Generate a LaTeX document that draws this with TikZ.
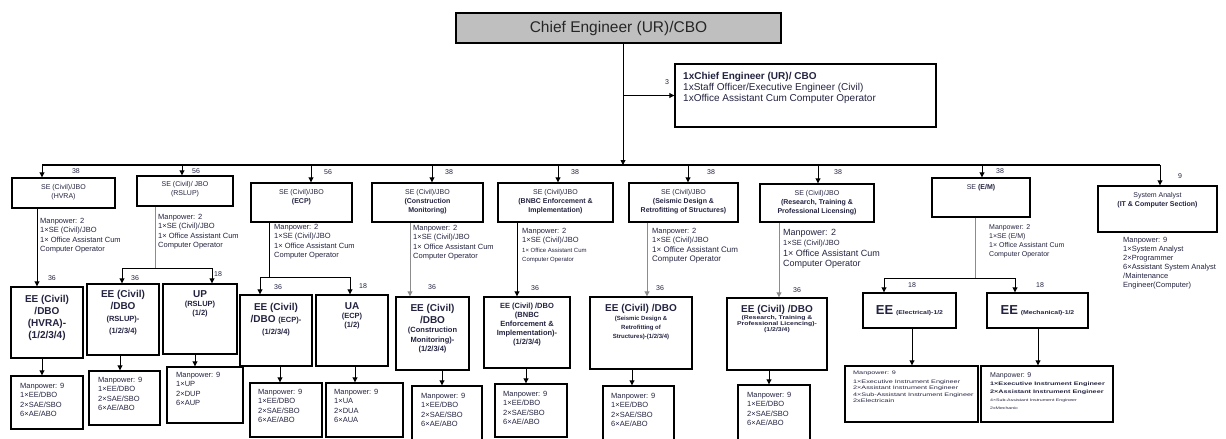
\documentclass[tikz,border=0pt]{standalone}
\usepackage{fontspec}
\setmainfont{Liberation Sans}
\newfontfamily\wsans[FakeStretch=1.25]{Liberation Sans}
\newfontfamily\xsans[FakeStretch=1.45]{Liberation Sans}
\usetikzlibrary{arrows.meta,fit,positioning}
\definecolor{ink}{RGB}{35,35,65}
\newcommand{\fsz}[2]{\fontsize{#1}{#2}\selectfont}

\begin{document}
\begin{tikzpicture}[x=1pt,y=-1pt,
    box/.style={draw, line width=1.4pt, inner sep=0pt},
    arr/.style={line width=0.9pt, -{Triangle[length=5pt,width=5pt]}},
    garr/.style={arr, draw=black!45},
    gline/.style={line width=0.9pt, draw=black!45},
    num/.style={font=\fsz{7}{8}, text=ink, inner sep=0pt},
    setxt/.style={font=\fsz{7}{9}, text=ink, align=center, inner sep=0pt},
    mptxt/.style={font=\fsz{7.5}{9.5}, text=ink, align=left, inner sep=0pt, anchor=north west},
    eetxt/.style={font=\fsz{10}{12}\bfseries, text=ink, align=center, inner sep=0pt}]

\useasboundingbox (0,0) rectangle (1226,439);

% chief engineer and his office
\node[box, fill=black!25, fit={(456,13) (781,43)}] (ce) {};
\node[font=\fsz{15.5}{18}, text=black!85] (cet) at (ce) {Chief Engineer (UR)/CBO};
\node[box, fit={(675,64) (936,127)}] (staff) {};
\node[font=\fsz{10}{11}, text=ink, align=left, inner sep=0pt, anchor=north west] (stafft) at (683,72)
  {\textbf{1xChief Engineer (UR)/ CBO}\\1xStaff Officer/Executive Engineer (Civil)\\1xOffice Assistant Cum Computer Operator};
\coordinate (trunk) at (623,165);
\draw[arr] (ce.south-|trunk) -- (trunk); % main line
\draw[arr] (trunk|-staff.west) -- (staff.west);
\node[num] (staffn) at (667,82) {3};
\coordinate (busL) at (42,165);
\coordinate (busR) at (1160,165);
\draw[line width=1.3pt] (busL) -- (busR); % bus

% HVRA
\node[box, fit={(12,178) (115,208)}] (hvra) {};
\node[setxt, below=7pt] (hvrat) at (hvra.north) {SE (Civil)/JBO\\(HVRA)};
\draw[arr] (busL) -- (busL|-hvra.north);
\node[num] (hvran) at (76,171) {38};
\node[mptxt] (hvram) at (40,218) {Manpower: 2\\1×SE (Civil)/JBO\\1× Office Assistant Cum\\Computer Operator};
\node[box, fit={(11,287) (83,358)}] (hvraee) {};
\node[eetxt, below=9pt] (hvraeet) at (hvraee.north) {EE (Civil)\\/DBO\\(HVRA)-\\(1/2/3/4)};
\draw[arr] (hvra.south-|37,0) -- (hvraee.north-|37,0);
\node[num] (hvraen) at (52,278) {36};
\node[box, fit={(11,376) (83,429)}] (hvramp) {};
\draw[arr] (hvraee.south-|42,0) -- (hvramp.north-|42,0);
\node[mptxt] (hvrampt) at (20,383) {Manpower: 9\\1×EE/DBO\\2×SAE/SBO\\6×AE/ABO};

% RSLUP
\node[box, fit={(137,176) (233,206)}] (rslup) {};
\node[setxt, below=6pt] (rslupt) at (rslup.north) {SE (Civil)/ JBO\\(RSLUP)};
\draw[arr] (182,165) -- (182,165|-rslup.north);
\node[num] (rslupn) at (196,171) {56};
\node[mptxt] (rslupm) at (158,214) {Manpower: 2\\1×SE (Civil)/JBO\\1× Office Assistant Cum\\Computer Operator};
\coordinate (rsj) at (155,268);
\draw[gline] (rslup.south-|rsj) -- (rsj);
\draw[line width=0.9pt] (122,268) -- (212,268);
\node[box, fit={(87,284) (159,355)}] (rsee) {};
\node[box, fit={(163,284) (237,354)}] (up) {};
\draw[arr] (122,268) -- (122,268|-rsee.north);
\draw[arr] (212,268) -- (212,268|-up.north);
\node[num] (rseen) at (135,278) {36};
\node[num] (upn) at (218,274) {18};
\node[eetxt, below=7pt] (rseet) at (rsee.north) {EE (Civil)\\/DBO\\{\fsz{7.5}{9}(RSLUP)-}\\{\fsz{7.5}{9}(1/2/3/4)}};
\node[eetxt, font=\fsz{7.5}{9}\bfseries, below=7pt] (upt) at (up.north) {{\fsz{10}{12}UP}\\(RSLUP)\\(1/2)};
\node[box, fit={(89,371) (160,425)}] (rsmp) {};
\node[box, fit={(167,367) (243,423)}] (upmp) {};
\draw[arr] (rsee.south-|120,0) -- (rsmp.north-|120,0);
\draw[arr] (up.south-|195,0) -- (upmp.north-|195,0);
\node[mptxt] (rsmpt) at (98,377) {Manpower: 9\\1×EE/DBO\\2×SAE/SBO\\6×AE/ABO};
\node[mptxt] (upmpt) at (176,372) {Manpower: 9\\1×UP\\2×DUP\\6×AUP};

% ECP
\node[box, fit={(251,183) (352,222)}] (ecp) {};
\node[setxt, below=7pt] (ecpt) at (ecp.north) {SE (Civil)/JBO\\\textbf{(ECP)}};
\draw[arr] (311,165) -- (311,165|-ecp.north);
\node[num] (ecpn) at (328,172) {56};
\node[mptxt] (ecpm) at (274,224) {Manpower: 2\\1×SE (Civil)/JBO\\1× Office Assistant Cum\\Computer Operator};
\coordinate (ecj) at (269,277);
\draw[line width=0.9pt] (ecp.south-|ecj) -- (ecj);
\draw[line width=0.9pt] (260,277) -- (350,277);
\node[box, fit={(240,295) (312,366)}] (ecpee) {};
\node[box, fit={(316,295) (388,366)}] (ua) {};
\draw[arr] (260,277) -- (260,277|-ecpee.north);
\draw[arr] (350,277) -- (350,277|-ua.north);
\node[num] (ecpeen) at (278,287) {36};
\node[num] (uan) at (363,286) {18};
\node[eetxt, below=9pt] (ecpeet) at (ecpee.north) {EE (Civil)\\/DBO {\fsz{7.5}{9}(ECP)-}\\{\fsz{7.5}{9}(1/2/3/4)}};
\node[eetxt, font=\fsz{7.5}{9}\bfseries, below=8pt] (uat) at (ua.north) {{\fsz{10}{12}UA}\\(ECP)\\(1/2)};
\node[box, fit={(250,383) (322,437)}] (ecpmp) {};
\node[box, fit={(326,383) (403,437)}] (uamp) {};
\draw[arr] (ecpee.south-|280,0) -- (ecpmp.north-|280,0);
\draw[arr] (ua.south-|355,0) -- (uamp.north-|355,0);
\node[mptxt] (ecpmpt) at (258,389) {Manpower: 9\\1×EE/DBO\\2×SAE/SBO\\6×AE/ABO};
\node[mptxt] (uampt) at (334,389) {Manpower: 9\\1×UA\\2×DUA\\6×AUA};

% Construction Monitoring
\node[box, fit={(372,183) (483,222)}] (cm) {};
\node[setxt, below=7pt] (cmt) at (cm.north) {SE (Civil)/JBO\\\textbf{(Construction}\\\textbf{Monitoring)}};
\draw[arr] (432,165) -- (432,165|-cm.north);
\node[num] (cmn) at (449,172) {38};
\node[mptxt] (cmm) at (413,225) {Manpower: 2\\1×SE (Civil)/JBO\\1× Office Assistant Cum\\Computer Operator};
\node[box, fit={(396,297) (469,370)}] (cmee) {};
\draw[garr] (cm.south-|410,0) -- (cmee.north-|410,0);
\node[num] (cmeen) at (432,287) {36};
\node[eetxt, font=\fsz{7.5}{9.5}\bfseries, below=8pt] (cmeet) at (cmee.north) {{\fsz{10}{12}EE (Civil)}\\[2pt]{\fsz{10}{12}/DBO}\\(Construction\\Monitoring)-\\(1/2/3/4)};
\node[box, fit={(412,386) (482,443)}] (cmmp) {};
\draw[arr] (cmee.south-|442,0) -- (cmmp.north-|442,0);
\node[mptxt] (cmmpt) at (421,393) {Manpower: 9\\1×EE/DBO\\2×SAE/SBO\\6×AE/ABO};

% BNBC
\node[box, fit={(498,183) (613,222)}] (bnbc) {};
\node[setxt, below=7pt] (bnbct) at (bnbc.north) {SE (Civil)/JBO\\\textbf{(BNBC Enforcement \&}\\\textbf{Implementation)}};
\draw[arr] (558,165) -- (558,165|-bnbc.north);
\node[num] (bnbcn) at (575,172) {38};
\node[mptxt] (bnbcm) at (522,228) {Manpower: 2\\1×SE (Civil)/JBO\\{\fsz{6}{8}1× Office Assistant Cum}\\{\fsz{6}{8}Computer Operator}};
\node[box, fit={(484,297) (570,368)}] (bnbcee) {};
\draw[arr] (bnbc.south-|517,0) -- (bnbcee.north-|517,0);
\node[num] (bnbceen) at (535,288) {36};
\node[eetxt, font=\fsz{7.5}{9}\bfseries, below=7pt] (bnbceet) at (bnbcee.north) {EE (Civil) /DBO\\(BNBC\\Enforcement \&\\Implementation)-\\(1/2/3/4)};
\node[box, fit={(495,384) (567,437)}] (bnbcmp) {};
\draw[arr] (bnbcee.south-|526,0) -- (bnbcmp.north-|526,0);
\node[mptxt] (bnbcmpt) at (503,391) {Manpower: 9\\1×EE/DBO\\2×SAE/SBO\\6×AE/ABO};

% Seismic
\node[box, fit={(629,183) (738,222)}] (sds) {};
\node[setxt, below=7pt] (sdst) at (sds.north) {SE (Civil)/JBO\\\textbf{(Seismic Design \&}\\\textbf{Retrofitting of Structures)}};
\draw[arr] (688,165) -- (688,165|-sds.north);
\node[num] (sdsn) at (711,172) {38};
\node[mptxt] (sdsm) at (652,228) {Manpower: 2\\1×SE (Civil)/JBO\\{\fsz{8}{9.5}1× Office Assistant Cum}\\{\fsz{8}{9.5}Computer Operator}};
\node[box, fit={(590,297) (692,369)}] (sdsee) {};
\draw[garr] (sds.south-|647,0) -- (sdsee.north-|647,0);
\node[num] (sdseen) at (660,288) {36};
\node[eetxt, font=\fsz{6}{9}\bfseries, below=8pt] (sdseet) at (sdsee.north) {{\fsz{10}{12}EE (Civil) /DBO}\\(Seismic Design \&\\Retrofitting of\\Structures)-(1/2/3/4)};
\node[box, fit={(603,386) (674,443)}] (sdsmp) {};
\draw[arr] (sdsee.south-|632,0) -- (sdsmp.north-|632,0);
\node[mptxt] (sdsmpt) at (611,393) {Manpower: 9\\1×EE/DBO\\2×SAE/SBO\\6×AE/ABO};

% Research, Training
\node[box, fit={(760,184) (874,222)}] (rtpl) {};
\node[setxt, below=7pt] (rtplt) at (rtpl.north) {SE (Civil)/JBO\\\textbf{(Research, Training \&}\\\textbf{Professional Licensing)}};
\draw[arr] (818,165) -- (818,165|-rtpl.north);
\node[num] (rtpln) at (838,172) {38};
\node[mptxt, font=\fsz{9}{10.5}] (rtplm) at (783,229) {Manpower: 2\\{\fsz{7.5}{10.5}1×SE (Civil)/JBO}\\1× Office Assistant Cum\\Computer Operator};
\node[box, fit={(727,298) (827,370)}] (rtplee) {};
\draw[garr] (rtpl.south-|779,0) -- (rtplee.north-|779,0);
\node[num] (rtpleen) at (797,290) {36};
\node[eetxt, font=\wsans\fsz{5.5}{6.3}\bfseries, below=8pt] (rtpleet) at (rtplee.north) {{\rmfamily\fsz{10}{12}EE (Civil) /DBO}\\(Research, Training \&\\Professional Licencing)-\\(1/2/3/4)};
\node[box, fit={(738,385) (810,443)}] (rtplmp) {};
\draw[arr] (rtplee.south-|769,0) -- (rtplmp.north-|769,0);
\node[mptxt] (rtplmpt) at (747,392) {Manpower: 9\\1×EE/DBO\\2×SAE/SBO\\6×AE/ABO};

% E/M
\node[box, fit={(932,178) (1030,217)}] (em) {};
\node[setxt, below=7pt] (emt) at (em.north) {SE \textbf{(E/M)}};
\draw[arr] (982,165) -- (982,165|-em.north);
\node[num] (emn) at (1000,171) {38};
\node[mptxt, font=\fsz{7}{9}] (emm) at (989,224) {Manpower: 2\\1×SE (E/M)\\1× Office Assistant Cum\\Computer Operator};
\coordinate (emj) at (975,278);
\draw[gline] (em.south-|emj) -- (emj);
\draw[line width=0.9pt] (884,278) -- (1015,278);
\node[box, fit={(863,293) (956,328)}] (elec) {};
\node[box, fit={(987,293) (1088,328)}] (mech) {};
\draw[arr] (884,278) -- (884,278|-elec.north);
\draw[arr] (1015,278) -- (1015,278|-mech.north);
\node[num] (elecn) at (912,285) {18};
\node[num] (mechn) at (1040,285) {18};
\node[text=ink, inner sep=0pt] (elect) at (elec) {{\fsz{13}{15}\bfseries EE} {\wsans\fsz{5.5}{7}\bfseries(Electrical)-1/2}};
\node[text=ink, inner sep=0pt] (mecht) at (mech) {{\fsz{13}{15}\bfseries EE} {\wsans\fsz{5.5}{7}\bfseries(Mechanical)-1/2}};
\node[box, fit={(845,366) (978,422)}] (elecmp) {};
\node[box, fit={(981,366) (1113,422)}] (mechmp) {};
\draw[arr] (elec.south-|912,0) -- (elecmp.north-|912,0);
\draw[arr] (mech.south-|1038,0) -- (mechmp.north-|1038,0);
\node[mptxt, font=\xsans\fsz{5}{6.3}] (elecmpt) at (853,371) {Manpower: 9\\[2.5pt]1×Executive Instrument Engineer\\2×Assistant Instrument Engineer\\4×Sub-Assistant Instrument Engineer\\2xElectricain};
\node[mptxt, font=\fsz{7}{8}] (mechmpt) at (990,372) {Manpower: 9\\{\xsans\fsz{5}{7.5}\bfseries 1×Executive Instrument Engineer}\\{\xsans\fsz{5}{7.5}\bfseries 2×Assistant Instrument Engineer}\\{\xsans\fsz{3.6}{6}4×Sub-Assistant Instrument Engineer}\\{\xsans\fsz{3.6}{6}2xMechanic}};

% IT
\node[box, fit={(1098,186) (1217,232)}] (it) {};
\node[setxt, below=7pt] (itt) at (it.north) {System Analyst\\\textbf{(IT \& Computer Section)}};
\draw[arr] (busR) -- (busR|-it.north);
\node[num] (itn) at (1180,176) {9};
\node[mptxt, font=\fsz{7.5}{9}] (itm) at (1123,237) {Manpower: 9\\1×System Analyst\\2×Programmer\\6×Assistant System Analyst\\/Maintenance\\Engineer(Computer)};
\end{tikzpicture}
\end{document}
